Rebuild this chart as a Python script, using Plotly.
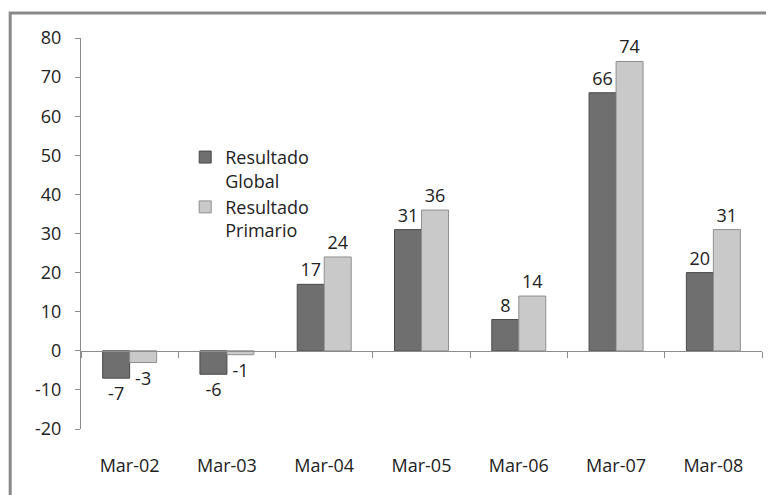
import plotly.graph_objects as go

categories = ["Mar-02", "Mar-03", "Mar-04", "Mar-05", "Mar-06", "Mar-07", "Mar-08"]
global_vals = [-7, -6, 17, 31, 8, 66, 20]
primario_vals = [-3, -1, 24, 36, 14, 74, 31]
series_names = ["Resultado<br>Global", "Resultado<br>Primario"]
y_ticks = [-20, -10, 0, 10, 20, 30, 40, 50, 60, 70, 80]

FONT = "Open Sans"
FS = 18
TXT = "#222222"
AXC = "#8c8c8c"

n = len(categories)
xs = list(range(n))

fig = go.Figure()
fig.add_trace(go.Bar(
    x=xs, y=global_vals, name=series_names[0],
    marker=dict(color="#6f6f6f", line=dict(color="#4a4a4a", width=1)),
    text=[str(v) for v in global_vals], textposition="outside",
    textfont=dict(size=FS, color=TXT, family=FONT), cliponaxis=False,
))
fig.add_trace(go.Bar(
    x=xs, y=primario_vals, name=series_names[1],
    marker=dict(color="#c9c9c9", line=dict(color="#8f8f8f", width=1)),
    text=[str(v) for v in primario_vals], textposition="outside",
    textfont=dict(size=FS, color=TXT, family=FONT), cliponaxis=False,
))
fig.add_trace(go.Scatter(x=xs, y=[0] * n, xaxis="x2", yaxis="y",
                         mode="markers", marker=dict(opacity=0),
                         showlegend=False, hoverinfo="skip"))

fig.update_layout(
    width=766, height=487,
    margin=dict(l=73, r=12, t=30, b=66, autoexpand=False),
    paper_bgcolor="white", plot_bgcolor="white",
    font=dict(family=FONT, size=FS, color=TXT),
    barmode="group", bargap=0.445, bargroupgap=0.0,
    showlegend=True,
    legend=dict(x=0.153, y=0.742, xanchor="left", yanchor="top", valign="top",
                bgcolor="rgba(0,0,0,0)", font=dict(size=FS, family=FONT, color=TXT),
                tracegroupgap=0, itemwidth=30),
    xaxis=dict(range=[-0.5, n - 0.5], tickmode="array", tickvals=xs,
               ticktext=categories, showline=False, showgrid=False,
               zeroline=False, ticks="", ticklabelstandoff=24, automargin=False,
               tickfont=dict(size=FS, family=FONT, color=TXT)),
    xaxis2=dict(overlaying="x", anchor="free", position=0.2,
                range=[-0.5, n - 0.5], tickmode="array",
                tickvals=[i + 0.5 for i in range(-1, n)],
                showticklabels=False, showline=True, linecolor=AXC,
                linewidth=1, ticks="outside", ticklen=6, tickcolor=AXC,
                showgrid=False, zeroline=False, side="bottom", automargin=False),
    yaxis=dict(range=[-20, 80], tickmode="array", tickvals=y_ticks,
               ticktext=[str(v) for v in y_ticks],
               showline=True, linecolor=AXC, linewidth=1, ticks="outside",
               ticklen=5, tickcolor=AXC, showgrid=False, zeroline=False,
               ticklabelstandoff=10, automargin=False,
               tickfont=dict(size=FS, family=FONT, color=TXT)),
    shapes=[dict(type="rect", xref="paper", yref="paper",
                 x0=-0.104, y0=-0.35, x1=1.05, y1=1.064,
                 line=dict(color="#8a8a8a", width=3), fillcolor="rgba(0,0,0,0)",
                 layer="below")],
)

fig.write_html("out.html")
